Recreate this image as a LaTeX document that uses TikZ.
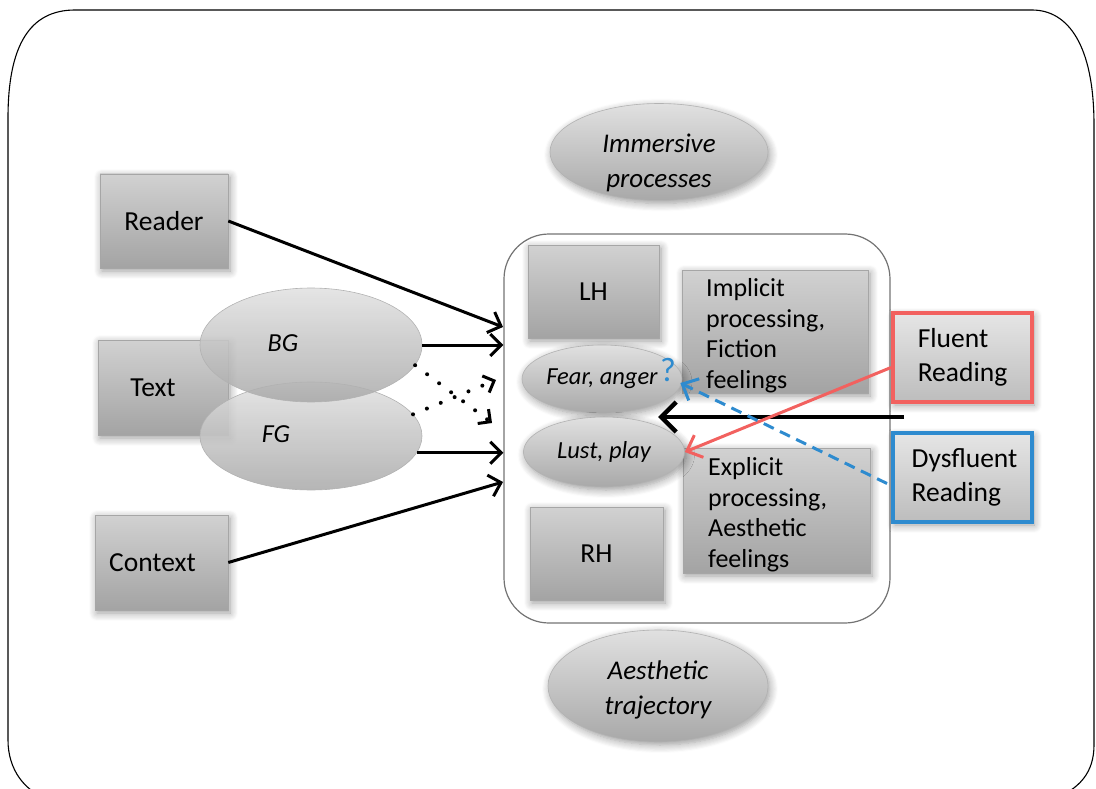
\documentclass[tikz,border=0pt]{standalone}
\usepackage{fontspec}
\setmainfont{Carlito}
\usetikzlibrary{shapes.geometric,shadows.blur,arrows.meta}

\definecolor{fluentred}{HTML}{F2615F}
\definecolor{dysblue}{HTML}{2E8BCF}

\tikzset{
  soft/.style={blur shadow={shadow blur steps=8, shadow xshift=2pt, shadow yshift=-3pt,
      shadow blur radius=8pt, shadow opacity=40}},
  graybox/.style={rectangle, draw=black!35, line width=0.6pt, top color=black!18,
      bottom color=black!36, soft, inner sep=0pt, text=black,
      font=\fontsize{27.5}{34}\selectfont},
  readbox/.style={graybox, top color=black!10, bottom color=black!26, line width=4pt},
  plainoval/.style={ellipse, draw=black!30, line width=0.6pt, top color=black!12,
      bottom color=black!34, inner sep=0pt, text=black,
      font=\fontsize{27}{35}\itshape\selectfont, align=center},
  oval/.style={plainoval, soft},
  smalloval/.style={oval, font=\fontsize{24.5}{30}\itshape\selectfont},
  ovaltext/.style={align=center, font=\fontsize{27}{35}\itshape\selectfont},
  flow/.style={line width=3pt, -{Straight Barb[length=11pt,width=22pt,line width=3pt]}},
  dots/.style={line width=4pt, line cap=round, dash pattern=on 0pt off 15pt,
      -{Straight Barb[length=9pt,width=18pt,line width=3pt]}},
}

\begin{document}
\begin{tikzpicture}[x=1pt, y=-1pt]
\useasboundingbox (0,0) rectangle (1096,789);

% slide frame
\begin{scope}
\clip (0,0) rectangle (1096,789);
\draw[line width=1.1pt]
  (8,740) -- (8,118) .. controls (8,45) and (30,10) .. (75,10)
  -- (1032,10) .. controls (1068,10) and (1094,45) .. (1094,125)
  -- (1094,745) .. controls (1094,772) and (1080,790) .. (1050,800)
  -- (50,800) .. controls (25,792) and (8,770) .. (8,740);
\end{scope}

% top and bottom ovals
\node[oval, minimum width=218pt, minimum height=97pt,
  label={[ovaltext, yshift=-11pt]center:Immersive\\processes}] (immersive) at (659,152) {};
\node[oval, minimum width=220pt, minimum height=112pt,
  label={[ovaltext, yshift=-4pt]center:Aesthetic\\trajectory}] (aesthetic) at (658,686) {};

% inner panel
\node[draw=black!55, line width=1.2pt, rounded corners=45pt, minimum width=386pt,
  minimum height=389pt] (panel) at (697,428.5) {};

% left column
\node[graybox, minimum width=128pt, minimum height=94pt] (reader) at (164,221) {Reader};
\node[graybox, minimum width=130pt, minimum height=95pt] (text) at (163,387.5)
  {\hspace*{-20pt}Text};
\node[graybox, minimum width=133pt, minimum height=95pt] (context) at (161.5,562.5)
  {\hspace*{-18pt}Context};

\node[plainoval, fill opacity=0.85, minimum width=222pt, minimum height=108pt,
  label={[xshift=-35pt, yshift=2pt, font=\fontsize{26}{30}\itshape\selectfont]center:FG}]
  (fg) at (311,436) {};
\node[plainoval, fill opacity=0.85, minimum width=222pt, minimum height=114pt,
  label={[xshift=-28pt, yshift=2pt, font=\fontsize{26}{30}\itshape\selectfont]center:BG}]
  (bg) at (311,345) {};

% panel contents
\node[graybox, minimum width=131pt, minimum height=93pt] (lh) at (593.5,291.5) {LH};
\node[graybox, minimum width=133pt, minimum height=93pt] (rh) at (596.5,553.5) {RH};
\node[graybox, minimum width=186pt, minimum height=123pt] (implicit) at (775,331.5) {};
\node[anchor=north west, align=left, inner sep=0pt, font=\fontsize{26}{30.8}\selectfont]
  (implicittext) at (706,278) {Implicit\\processing,\\Fiction\\feelings};
\node[graybox, minimum width=187pt, minimum height=125pt] (explicit) at (776.5,510.5) {};
\node[anchor=north west, align=left, inner sep=0pt, font=\fontsize{26}{30.8}\selectfont]
  (explicittext) at (708,457) {Explicit\\processing,\\Aesthetic\\feelings};

\node[smalloval, minimum width=160pt, minimum height=68pt] (fear) at (602,379) {Fear, anger};
\node[smalloval, minimum width=161pt, minimum height=70pt] (lust) at (604,452) {Lust, play};
\node[text=dysblue, inner sep=0pt, font=\fontsize{34}{34}\selectfont] (qmark) at (668,370) {?};

% reading modes
\node[readbox, draw=fluentred, minimum width=139pt, minimum height=89pt, align=left]
  (fluent) at (962.5,357.5) {Fluent\\Reading};
\node[readbox, draw=dysblue, minimum width=139pt, minimum height=89pt, align=left]
  (dysfluent) at (962.5,477.5) {\hspace*{4pt}Dysfluent\\\hspace*{4pt}Reading};

% arrow end points on the panel border
\coordinate (inreader) at (503,327);
\coordinate (incontext) at (503,482);
\coordinate (indotup) at (496,380);
\coordinate (indotdown) at (492,423);
\coordinate (modestart) at (904,417);
\coordinate (modeend) at (658,417);

% connectors into the panel
\draw[flow] (reader.east) -- (inreader);
\draw[flow] (bg.east) -- (bg.east -| panel.west);
\draw[flow] (fg.-9) -- (fg.-9 -| panel.west);
\draw[flow] (context.east) -- (incontext);
\draw[dots] (bg.-11) -- (indotdown);
\draw[dots] (fg.12) -- (indotup);

% reading mode connectors
\draw[line width=4.5pt, -{Straight Barb[length=15pt,width=30pt,line width=4.5pt]}]
  (modestart) -- (modeend);
\draw[fluentred, line width=3pt, -{Straight Barb[length=13pt,width=24pt,line width=3pt]}]
  ([yshift=-10pt]fluent.west) -- (lust.east);
\draw[dysblue, line width=3pt, dash pattern=on 11pt off 7pt,
  -{Straight Barb[length=13pt,width=24pt,line width=3pt]}]
  ([yshift=-6pt,xshift=-4pt]dysfluent.west) -- ([xshift=-2pt,yshift=-4pt]fear.east);
\end{tikzpicture}
\end{document}
